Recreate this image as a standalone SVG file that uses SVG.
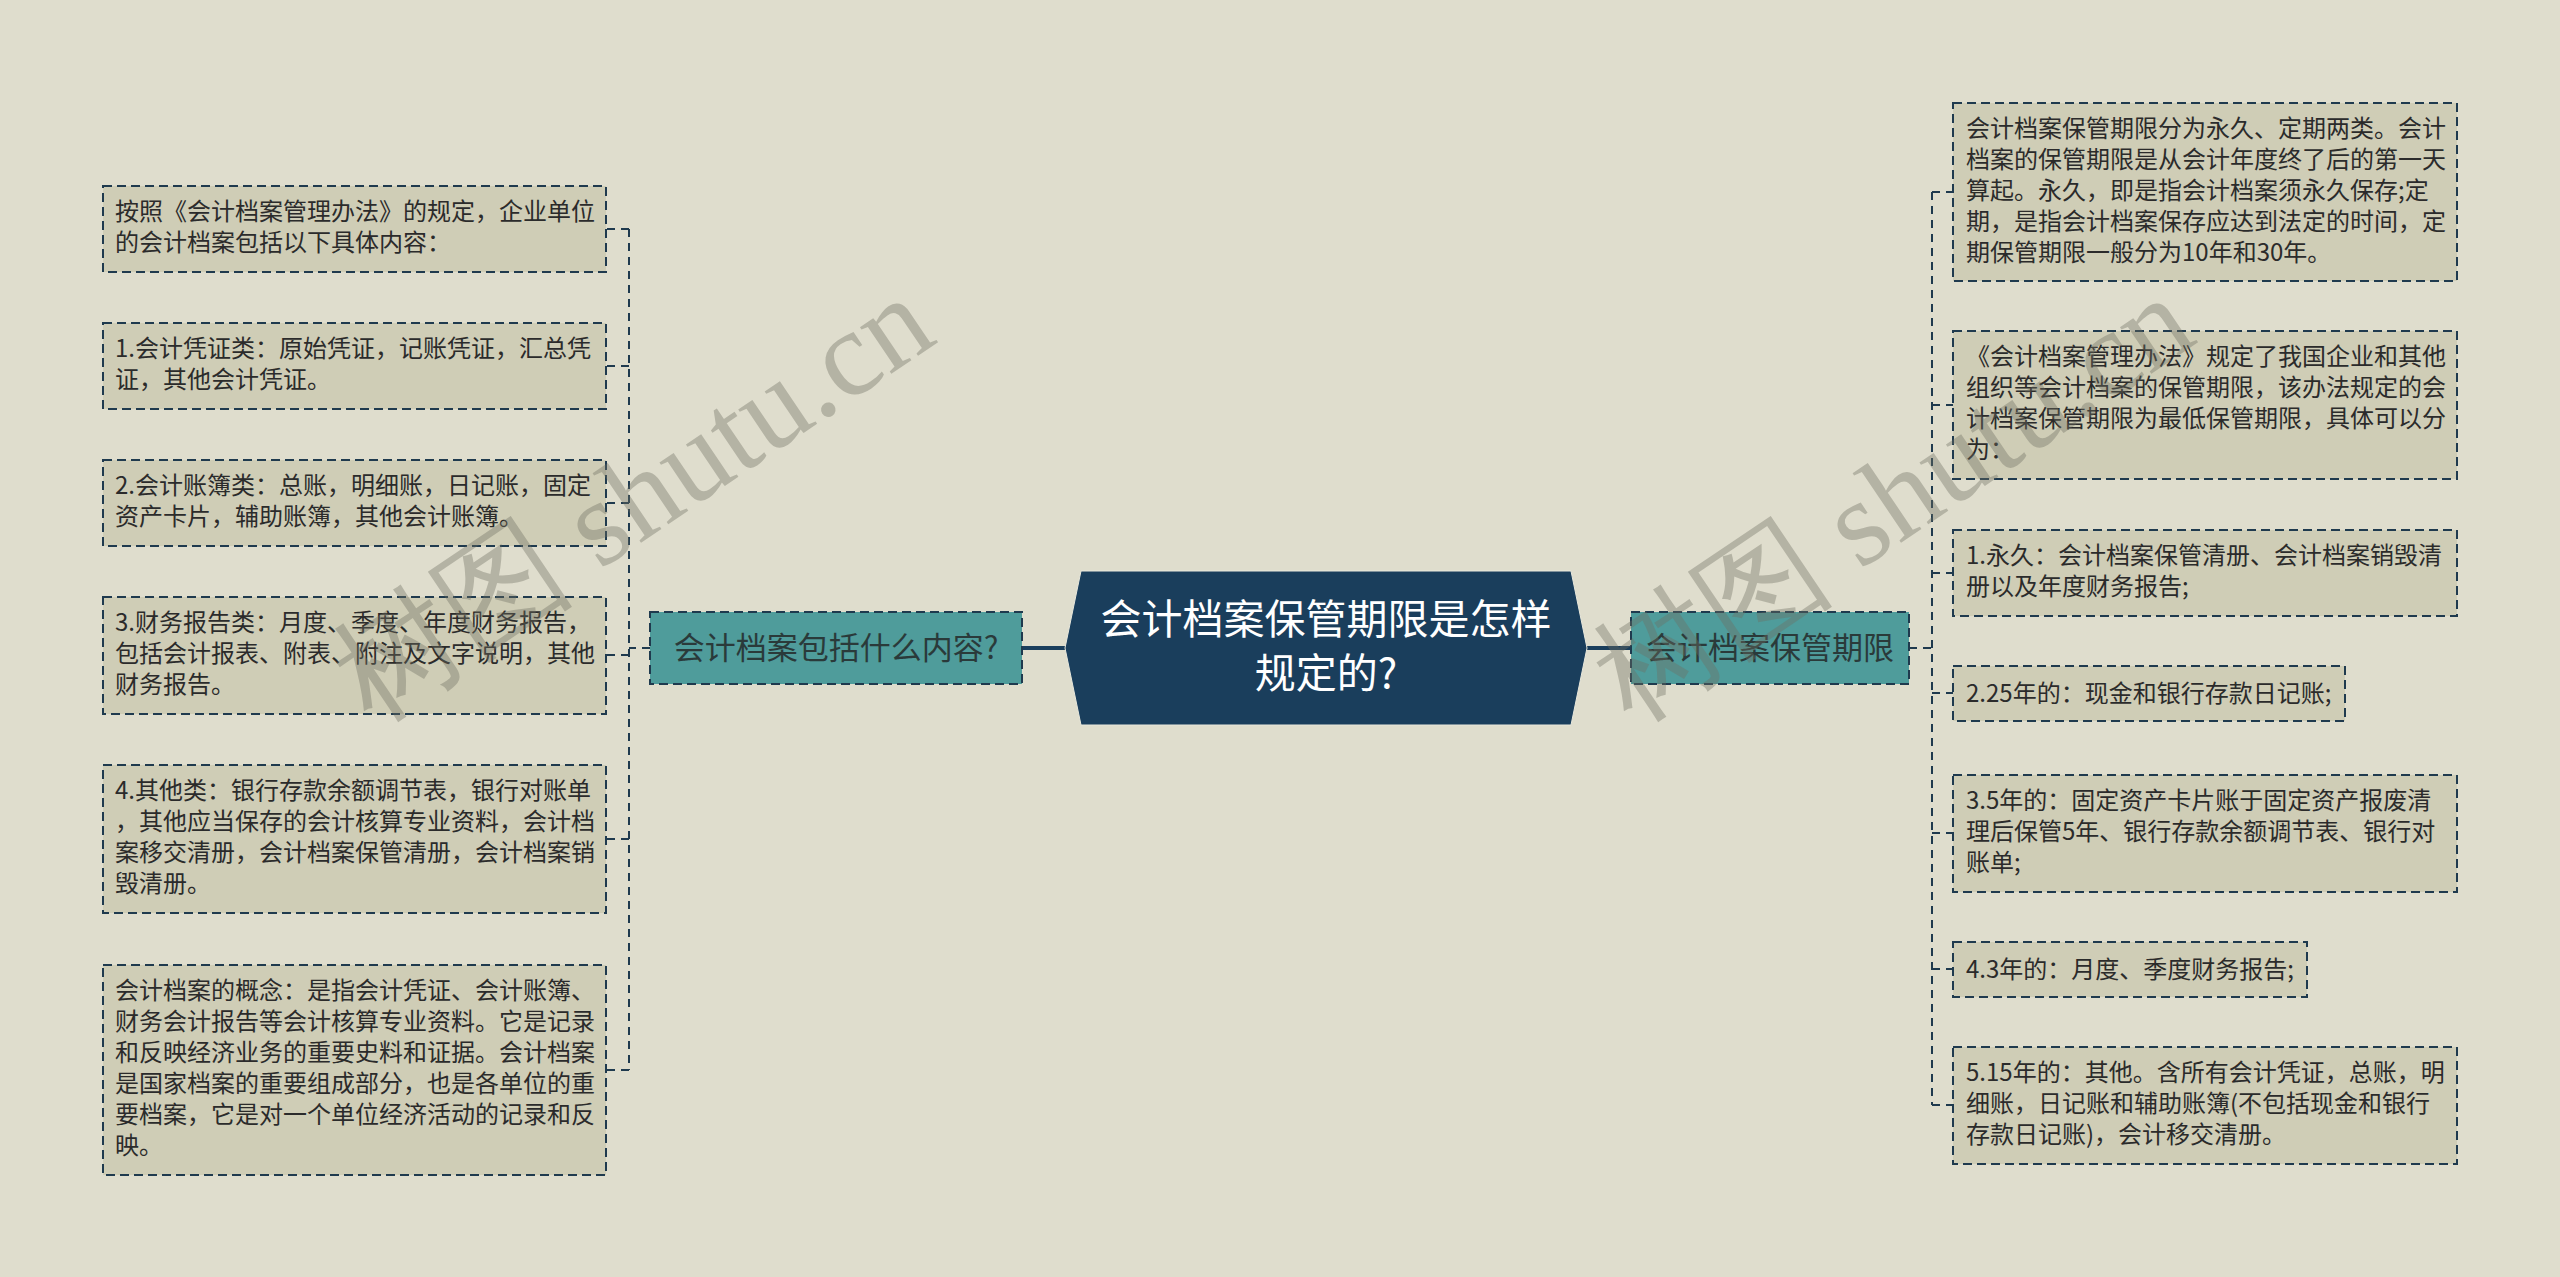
<svg xmlns="http://www.w3.org/2000/svg" width="2560" height="1277" viewBox="0 0 2560 1277">
<style>
.bg{fill:#dfddcd}
.leaf{fill:#cfcdb6;stroke:#1f3a4e;stroke-width:2;stroke-dasharray:9 5}
.topic{fill:#4f9c9b;stroke:#1f3a4e;stroke-width:2;stroke-dasharray:9 5}
.t{font-family:"Noto Sans CJK SC","Noto Sans",sans-serif;font-size:24px;fill:#2b2b2b}
.tt{font-family:"Noto Sans CJK SC","Noto Sans",sans-serif;font-size:31px;fill:#2a3a3a;text-anchor:middle}
.ct{font-family:"Noto Sans CJK SC","Noto Sans",sans-serif;font-size:41px;fill:#ffffff;text-anchor:middle}
.con{fill:none;stroke:#1f3a4e;stroke-width:2;stroke-dasharray:8 6}
.main{fill:none;stroke:#1a3e5c;stroke-width:4}
.wm{font-family:"Liberation Serif",serif;font-size:122px;fill:#6f6f60;fill-opacity:0.38}
</style>
<rect class="bg" x="0" y="0" width="2560" height="1277"/>

<g id="connectors">
<path class="main" d="M1022,648 H1066"/>
<path class="main" d="M1586,648 H1631"/>
<path class="con" d="M650,648 H629"/>
<path class="con" d="M629,229 V1070"/>
<path class="con" d="M629,229 H606"/>
<path class="con" d="M629,366 H606"/>
<path class="con" d="M629,503 H606"/>
<path class="con" d="M629,655 H606"/>
<path class="con" d="M629,839 H606"/>
<path class="con" d="M629,1070 H606"/>
<path class="con" d="M1909,648 H1932"/>
<path class="con" d="M1932,192 V1105"/>
<path class="con" d="M1932,192 H1953"/>
<path class="con" d="M1932,405 H1953"/>
<path class="con" d="M1932,573 H1953"/>
<path class="con" d="M1932,693 H1953"/>
<path class="con" d="M1932,833 H1953"/>
<path class="con" d="M1932,969 H1953"/>
<path class="con" d="M1932,1105 H1953"/>
</g>

<g id="center">
<polygon points="1065,648 1081,571 1571,571 1587,648 1571,725 1081,725" fill="#1a3e5c" stroke="#e9e8dc" stroke-width="1"/>
<text class="ct" x="1326" y="634">会计档案保管期限是怎样</text>
<text class="ct" x="1326" y="688">规定的?</text>
</g>

<g id="topic-left">
<rect class="topic" x="650" y="612" width="372" height="72"/>
<text class="tt" x="836" y="659">会计档案包括什么内容?</text>
</g>
<g id="topic-right">
<rect class="topic" x="1631" y="612" width="278" height="72"/>
<text class="tt" x="1770" y="659">会计档案保管期限</text>
</g>

<g id="l1">
<rect class="leaf" x="103" y="186" width="503" height="86"/>
<text class="t" x="115" y="220">按照《会计档案管理办法》的规定，企业单位</text>
<text class="t" x="115" y="251">的会计档案包括以下具体内容：</text>
</g>
<g id="l2">
<rect class="leaf" x="103" y="323" width="503" height="86"/>
<text class="t" x="115" y="357">1.会计凭证类：原始凭证，记账凭证，汇总凭</text>
<text class="t" x="115" y="388">证，其他会计凭证。</text>
</g>
<g id="l3">
<rect class="leaf" x="103" y="460" width="503" height="86"/>
<text class="t" x="115" y="494">2.会计账簿类：总账，明细账，日记账，固定</text>
<text class="t" x="115" y="525">资产卡片，辅助账簿，其他会计账簿。</text>
</g>
<g id="l4">
<rect class="leaf" x="103" y="597" width="503" height="117"/>
<text class="t" x="115" y="631">3.财务报告类：月度、季度、年度财务报告，</text>
<text class="t" x="115" y="662">包括会计报表、附表、附注及文字说明，其他</text>
<text class="t" x="115" y="693">财务报告。</text>
</g>
<g id="l5">
<rect class="leaf" x="103" y="765" width="503" height="148"/>
<text class="t" x="115" y="799">4.其他类：银行存款余额调节表，银行对账单</text>
<text class="t" x="115" y="830">，其他应当保存的会计核算专业资料，会计档</text>
<text class="t" x="115" y="861">案移交清册，会计档案保管清册，会计档案销</text>
<text class="t" x="115" y="892">毁清册。</text>
</g>
<g id="l6">
<rect class="leaf" x="103" y="965" width="503" height="210"/>
<text class="t" x="115" y="999">会计档案的概念：是指会计凭证、会计账簿、</text>
<text class="t" x="115" y="1030">财务会计报告等会计核算专业资料。它是记录</text>
<text class="t" x="115" y="1061">和反映经济业务的重要史料和证据。会计档案</text>
<text class="t" x="115" y="1092">是国家档案的重要组成部分，也是各单位的重</text>
<text class="t" x="115" y="1123">要档案，它是对一个单位经济活动的记录和反</text>
<text class="t" x="115" y="1154">映。</text>
</g>

<g id="r1">
<rect class="leaf" x="1953" y="103" width="504" height="178"/>
<text class="t" x="1966" y="137">会计档案保管期限分为永久、定期两类。会计</text>
<text class="t" x="1966" y="168">档案的保管期限是从会计年度终了后的第一天</text>
<text class="t" x="1966" y="199">算起。永久，即是指会计档案须永久保存;定</text>
<text class="t" x="1966" y="230">期，是指会计档案保存应达到法定的时间，定</text>
<text class="t" x="1966" y="261">期保管期限一般分为10年和30年。</text>
</g>
<g id="r2">
<rect class="leaf" x="1953" y="331" width="504" height="148"/>
<text class="t" x="1966" y="365">《会计档案管理办法》规定了我国企业和其他</text>
<text class="t" x="1966" y="396">组织等会计档案的保管期限，该办法规定的会</text>
<text class="t" x="1966" y="427">计档案保管期限为最低保管期限，具体可以分</text>
<text class="t" x="1966" y="458">为：</text>
</g>
<g id="r3">
<rect class="leaf" x="1953" y="530" width="504" height="86"/>
<text class="t" x="1966" y="564">1.永久：会计档案保管清册、会计档案销毁清</text>
<text class="t" x="1966" y="595">册以及年度财务报告;</text>
</g>
<g id="r4">
<rect class="leaf" x="1953" y="666" width="392" height="55"/>
<text class="t" x="1966" y="702">2.25年的：现金和银行存款日记账;</text>
</g>
<g id="r5">
<rect class="leaf" x="1953" y="775" width="504" height="117"/>
<text class="t" x="1966" y="809">3.5年的：固定资产卡片账于固定资产报废清</text>
<text class="t" x="1966" y="840">理后保管5年、银行存款余额调节表、银行对</text>
<text class="t" x="1966" y="871">账单;</text>
</g>
<g id="r6">
<rect class="leaf" x="1953" y="942" width="354" height="55"/>
<text class="t" x="1966" y="978">4.3年的：月度、季度财务报告;</text>
</g>
<g id="r7">
<rect class="leaf" x="1953" y="1047" width="504" height="117"/>
<text class="t" x="1966" y="1081">5.15年的：其他。含所有会计凭证，总账，明</text>
<text class="t" x="1966" y="1112">细账，日记账和辅助账簿(不包括现金和银行</text>
<text class="t" x="1966" y="1143">存款日记账)，会计移交清册。</text>
</g>

<g id="watermarks">
<text class="wm" transform="translate(372,724) rotate(-34)">树图 shutu.cn</text>
<text class="wm" transform="translate(1632,724) rotate(-34)">树图 shutu.cn</text>
</g>
</svg>
